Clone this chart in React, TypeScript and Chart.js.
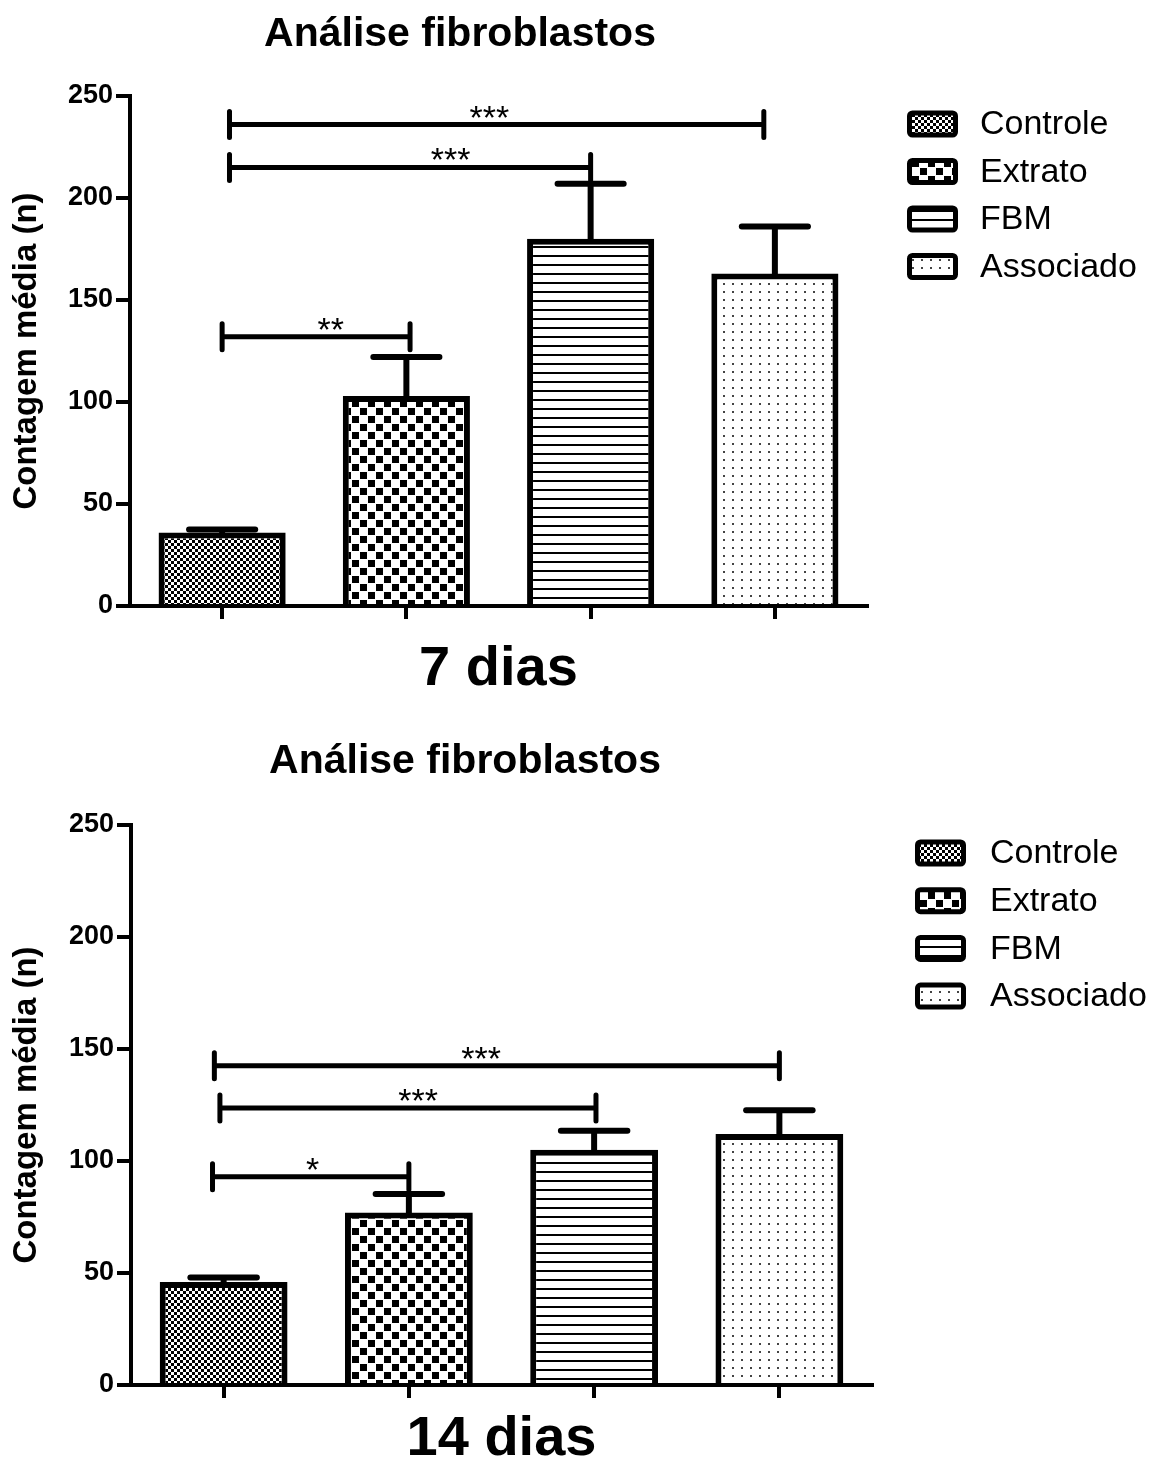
import React, { useEffect, useRef } from 'react';
import { Chart, registerables } from 'chart.js';

Chart.register(...registerables);

// ---------- data ----------
const categories = ['Controle', 'Extrato', 'FBM', 'Associado'];
const chartTitle = 'Análise fibroblastos';
const yAxisTitle = 'Contagem média (n)';
const yTickValues = [0, 50, 100, 150, 200, 250];

const day7Label = '7 dias';
const day7Means = [36, 103, 180, 163];
const day7Sem = [1.5, 19, 27, 23];
const day7Sig = [
  { from: 0.04, to: 2.94, level: 236, text: '***', at: 1.45 },
  { from: 0.04, to: 2.0, level: 215, text: '***', at: 1.24 },
  { from: 0.0, to: 1.02, level: 132, text: '**', at: 0.59 },
];

const day14Label = '14 dias';
const day14Means = [46, 77, 105, 112];
const day14Sem = [2, 8.3, 8.5, 10.7];
const day14Sig = [
  { from: -0.05, to: 3.0, level: 142.5, text: '***', at: 1.39 },
  { from: -0.02, to: 2.01, level: 123.7, text: '***', at: 1.05 },
  { from: -0.06, to: 1.0, level: 93, text: '*', at: 0.48 },
];

const FONT = "Arial, 'Liberation Sans', sans-serif";

// ---------- patterns ----------
function makePattern(kind: string): CanvasPattern {
  const c = document.createElement('canvas');
  if (kind === 'fine') { c.width = 6; c.height = 6; }
  else if (kind === 'coarse') { c.width = 16; c.height = 16; }
  else if (kind === 'lines') { c.width = 9; c.height = 9; }
  else { c.width = 9; c.height = 8; }
  const g = c.getContext('2d')!;
  g.fillStyle = '#fff';
  g.fillRect(0, 0, c.width, c.height);
  g.fillStyle = '#000';
  if (kind === 'fine') {
    g.fillRect(0, 0, 3, 3);
    g.fillRect(3, 3, 3, 3);
  } else if (kind === 'coarse') {
    g.fillRect(0, 0, 7, 7);
    g.fillRect(8, 8, 7, 7);
  } else if (kind === 'lines') {
    g.fillRect(0, 3, 9, 2);
  } else {
    g.fillStyle = '#444';
    g.fillRect(3, 3, 2, 2);
  }
  return g.createPattern(c, 'repeat') as CanvasPattern;
}

type Sig = { from: number; to: number; level: number; text: string; at: number };

type PanelProps = {
  height: number;
  means: number[];
  sems: number[];
  sig: Sig[];
  xTitle: string;
  axisX: number;
  areaRight: number;
  areaTop: number;
  padBottom: number;
  xTitlePadTop: number;
  titleX: number;
  titleY: number;
  legendX: number;
  legendY: number;
  legendTextX: number;
  legendGap: number;
};

function Panel(p: PanelProps) {
  const ref = useRef<HTMLCanvasElement>(null);

  useEffect(() => {
    const canvas = ref.current!;
    const patterns = [makePattern('fine'), makePattern('coarse'), makePattern('lines'), makePattern('dots')];

    const errorBars = {
      id: 'errorBars',
      afterDatasetsDraw(chart: any) {
        const meta = chart.getDatasetMeta(0);
        const ys = chart.scales.y;
        const ctx = chart.ctx;
        const data = chart.data.datasets[0].data as number[];
        ctx.save();
        ctx.strokeStyle = '#000';
        ctx.lineWidth = 6;
        meta.data.forEach((el: any, i: number) => {
          const top = ys.getPixelForValue(data[i] + p.sems[i]);
          const half = el.width * 0.26;
          ctx.lineCap = 'butt';
          ctx.beginPath();
          ctx.moveTo(el.x, el.y + 3);
          ctx.lineTo(el.x, top);
          ctx.stroke();
          ctx.lineCap = 'round';
          ctx.beginPath();
          ctx.moveTo(el.x - half, top);
          ctx.lineTo(el.x + half, top);
          ctx.stroke();
        });
        ctx.restore();
      },
    };

    const extras = {
      id: 'extras',
      afterDraw(chart: any) {
        const ctx = chart.ctx;
        const xs = chart.scales.x;
        const ys = chart.scales.y;
        ctx.save();
        // significance brackets
        ctx.strokeStyle = '#000';
        ctx.fillStyle = '#000';
        ctx.lineWidth = 5;
        ctx.lineCap = 'round';
        p.sig.forEach((s) => {
          const x1 = xs.getPixelForValue(s.from);
          const x2 = xs.getPixelForValue(s.to);
          const y = ys.getPixelForValue(s.level);
          ctx.beginPath();
          ctx.moveTo(x1, y);
          ctx.lineTo(x2, y);
          ctx.moveTo(x1, y - 13);
          ctx.lineTo(x1, y + 13);
          ctx.moveTo(x2, y - 13);
          ctx.lineTo(x2, y + 13);
          ctx.stroke();
          ctx.font = `34px ${FONT}`;
          ctx.textAlign = 'center';
          ctx.textBaseline = 'alphabetic';
          ctx.fillText(s.text, xs.getPixelForValue(s.at), y + 4);
        });
        // chart title
        ctx.font = `bold 41px ${FONT}`;
        ctx.textAlign = 'center';
        ctx.textBaseline = 'middle';
        ctx.fillText(chartTitle, p.titleX, p.titleY);
        // legend
        const labels = chart.data.labels as string[];
        const bg = chart.data.datasets[0].backgroundColor as CanvasPattern[];
        labels.forEach((lab, i) => {
          const cy = p.legendY + i * p.legendGap;
          const bx = p.legendX, bw = 51, bh = 27;
          ctx.beginPath();
          ctx.roundRect(bx + 2.5, cy - bh / 2 + 2.5, bw - 5, bh - 5, 3);
          ctx.fillStyle = bg[i];
          ctx.fill();
          ctx.lineWidth = 5;
          ctx.strokeStyle = '#000';
          ctx.stroke();
          ctx.fillStyle = '#000';
          ctx.font = `34px ${FONT}`;
          ctx.textAlign = 'left';
          ctx.textBaseline = 'middle';
          ctx.fillText(lab, p.legendTextX, cy + 1);
        });
        ctx.restore();
      },
    };

    const chart = new Chart(canvas, {
      type: 'bar',
      data: {
        labels: categories,
        datasets: [
          {
            label: 'Contagem',
            data: p.means,
            backgroundColor: patterns,
            borderColor: '#000',
            borderWidth: 6,
            borderSkipped: 'start',
            barPercentage: 0.69,
            categoryPercentage: 1,
          },
        ],
      },
      options: {
        responsive: false,
        animation: false,
        devicePixelRatio: 1,
        layout: {
          padding: { left: 0, right: 1153 - p.areaRight, top: p.areaTop, bottom: p.padBottom },
        },
        plugins: {
          legend: { display: false },
          title: { display: false },
          tooltip: { enabled: false },
        },
        scales: {
          x: {
            type: 'category',
            offset: true,
            grid: {
              offset: false,
              drawOnChartArea: false,
              drawTicks: true,
              tickLength: 13,
              lineWidth: 4,
              color: '#000',
            },
            border: { display: true, width: 4, color: '#000' },
            ticks: { display: false },
            title: {
              display: true,
              text: p.xTitle,
              color: '#000',
              font: { family: FONT, size: 56, weight: 'bold', lineHeight: 0.9 },
              padding: { top: p.xTitlePadTop, bottom: 0 },
            },
          },
          y: {
            min: 0,
            max: 250,
            afterBuildTicks: (s: any) => {
              s.ticks = yTickValues.map((v) => ({ value: v }));
            },
            afterFit: (s: any) => {
              s.width = p.axisX;
            },
            grid: {
              drawOnChartArea: false,
              drawTicks: true,
              tickLength: 14,
              lineWidth: 4,
              color: '#000',
            },
            border: { display: true, width: 4, color: '#000' },
            ticks: {
              color: '#000',
              padding: 3,
              font: { family: FONT, size: 27, weight: 'bold' },
            },
            title: {
              display: true,
              text: yAxisTitle,
              color: '#000',
              font: { family: FONT, size: 33, weight: 'bold', lineHeight: 1 },
              padding: { top: 10, bottom: 0 },
            },
          },
        },
      } as any,
      plugins: [errorBars, extras],
    });
    return () => chart.destroy();
  }, []);

  return (
    <canvas
      ref={ref}
      width={1153}
      height={p.height}
      style={{ display: 'block', width: 1153, height: p.height }}
    />
  );
}

export default function App() {
  return (
    <div style={{ position: 'absolute', left: 0, top: 0, width: 1153, height: 1466, background: '#fff' }}>
      <Panel
        height={700}
        means={day7Means}
        sems={day7Sem}
        sig={day7Sig}
        xTitle={day7Label}
        axisX={130}
        areaRight={867}
        areaTop={96}
        padBottom={4.8}
        xTitlePadTop={25.8}
        titleX={460}
        titleY={35}
        legendX={907}
        legendY={124}
        legendTextX={980}
        legendGap={47.5}
      />
      <Panel
        height={766}
        means={day14Means}
        sems={day14Sem}
        sig={day14Sig}
        xTitle={day14Label}
        axisX={131}
        areaRight={872}
        areaTop={125}
        padBottom={1}
        xTitlePadTop={16.6}
        titleX={465}
        titleY={62}
        legendX={915}
        legendY={153}
        legendTextX={990}
        legendGap={47.7}
      />
    </div>
  );
}
